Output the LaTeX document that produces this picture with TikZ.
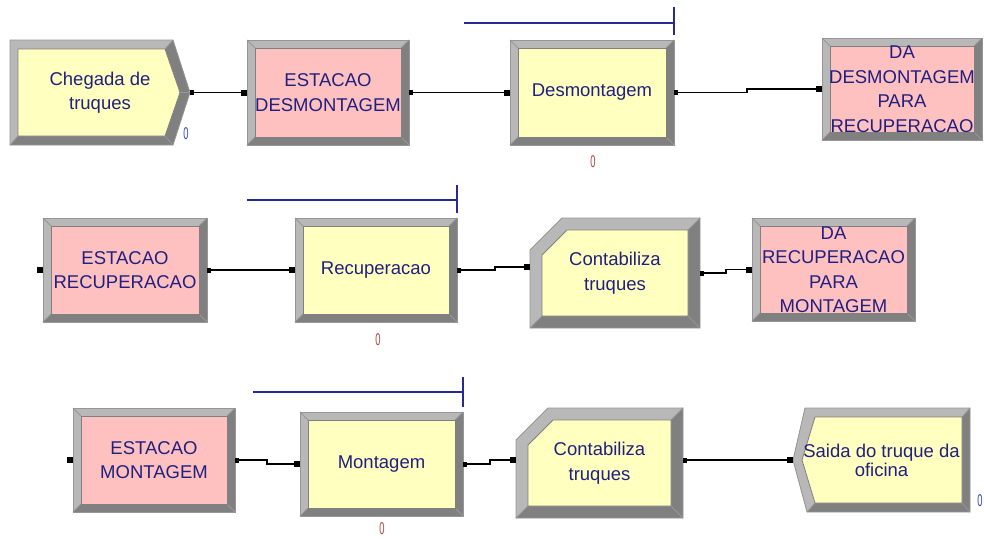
\documentclass[tikz,border=0pt]{standalone}
\usepackage{fontspec}
\setmainfont{Liberation Sans}
\usetikzlibrary{calc,arrows.meta}
\pgfdeclarelayer{back}
\pgfdeclarelayer{bg}
\pgfsetlayers{back,bg,main}
\definecolor{ylw}{RGB}{255,255,192}
\definecolor{pnk}{RGB}{255,192,192}
\definecolor{ltg}{RGB}{184,184,184}
\definecolor{dkg}{RGB}{128,128,128}
\definecolor{edg}{RGB}{150,150,150}
\definecolor{txt}{RGB}{32,32,128}
\definecolor{resc}{RGB}{40,40,150}
\definecolor{zblue}{RGB}{50,70,200}
\definecolor{zred}{RGB}{170,70,60}
\tikzset{
 blk/.style={draw=none, inner sep=0pt, outer sep=0pt, align=center, text=txt, font=\fontsize{18.5}{24.5}\selectfont},
 conn/.style={line width=1.2pt, {Square[length=4pt,width=5pt]}-{Square[length=6pt,width=6pt]}},
 res/.style={draw=resc, line width=1.4pt},
 zero/.style={inner sep=0pt, font=\fontsize{17}{17}\selectfont},
 thinl/.style={draw=edg, line width=0.8pt},
}
\newcommand\bevrect[2]{%
\begin{pgfonlayer}{bg}
\fill[dkg] (#1.north west) rectangle (#1.south east);
\fill[ltg] (#1.north west) -- (#1.north east) -- ($(#1.north east)+(-8,8)$) -- ($(#1.north west)+(8,8)$) -- ($(#1.south west)+(8,-8)$) -- (#1.south west) -- cycle;
\draw[thinl] (#1.north west) -- ($(#1.north west)+(8,8)$) (#1.north east) -- ($(#1.north east)+(-8,8)$) (#1.south west) -- ($(#1.south west)+(8,-8)$) (#1.south east) -- ($(#1.south east)+(-8,-8)$);
\filldraw[fill=#2, draw=dkg, line width=0.8pt] ($(#1.north west)+(8,8)$) rectangle ($(#1.south east)+(-8,-8)$);
\draw[thinl] (#1.north west) rectangle (#1.south east);
\end{pgfonlayer}}
\newcommand\bevrec[2]{%
\begin{pgfonlayer}{bg}
\fill[dkg] ($(#1.north west)+(32,0)$) -- (#1.north east) -- (#1.south east) -- (#1.south west) -- ($(#1.north west)+(0,32)$) -- cycle;
\fill[ltg] ($(#1.north west)+(32,0)$) -- (#1.north east) -- ($(#1.north east)+(-12,12)$) -- ($(#1.north west)+(37,12)$) -- ($(#1.north west)+(12,37)$) -- ($(#1.south west)+(12,-12)$) -- (#1.south west) -- ($(#1.north west)+(0,32)$) -- cycle;
\draw[thinl] (#1.north east) -- ($(#1.north east)+(-12,12)$) (#1.south west) -- ($(#1.south west)+(12,-12)$) (#1.south east) -- ($(#1.south east)+(-12,-12)$);
\filldraw[fill=#2, draw=dkg, line width=0.8pt] ($(#1.north west)+(37,12)$) -- ($(#1.north east)+(-12,12)$) -- ($(#1.south east)+(-12,-12)$) -- ($(#1.south west)+(12,-12)$) -- ($(#1.north west)+(12,37)$) -- cycle;
\draw[thinl] ($(#1.north west)+(32,0)$) -- (#1.north east) -- (#1.south east) -- (#1.south west) -- ($(#1.north west)+(0,32)$) -- cycle;
\end{pgfonlayer}}
\begin{document}
\begin{tikzpicture}[x=1pt,y=-1pt]
\begin{pgfonlayer}{back}
\fill[white] (0,0) rectangle (984,538);
\end{pgfonlayer}
\useasboundingbox (0,0) rectangle (984,538);

% ---------- row 1 ----------
\node[blk, minimum width=180pt, minimum height=105pt] (cheg) at (100,92.5) {Chegada de\\truques};
\node[blk, minimum width=162pt, minimum height=105pt] (estd) at (328,92.5) {ESTACAO\\DESMONTAGEM};
\node[blk, minimum width=164pt, minimum height=105pt] (desm) at (592,92.5) {Desmontagem};
\node[blk, minimum width=160pt, minimum height=102pt] (dad) at (902,89) {DA\\DESMONTAGEM\\PARA\\RECUPERACAO};

% ---------- row 2 ----------
\node[blk, minimum width=164pt, minimum height=104pt] (estr) at (125,270) {ESTACAO\\RECUPERACAO};
\node[blk, minimum width=162pt, minimum height=104pt] (recu) at (376,270) {Recuperacao};
\node[blk, minimum width=170pt, minimum height=110pt] (con1) at (615,273) {Contabiliza\\truques};
\node[blk, minimum width=163pt, minimum height=103pt] (darm) at (833.5,269.5) {DA\\RECUPERACAO\\PARA\\MONTAGEM};

% ---------- row 3 ----------
\node[blk, minimum width=162pt, minimum height=104pt] (estm) at (154,460) {ESTACAO\\MONTAGEM};
\node[blk, minimum width=163pt, minimum height=104pt] (mont) at (381.5,464) {Montagem};
\node[blk, minimum width=167pt, minimum height=110pt] (con2) at (599.5,463) {Contabiliza\\truques};
\node[blk, minimum width=177pt, minimum height=104pt, font=\fontsize{18.5}{19}\selectfont] (said) at (881.5,460) {Saida do truque da\\oficina};

% ---------- shapes ----------
\begin{pgfonlayer}{bg}
% Create
\fill[dkg] (cheg.north west) -- ($(cheg.north east)+(-17,0)$) -- (cheg.east) -- ($(cheg.south east)+(-17,0)$) -- (cheg.south west) -- cycle;
\fill[ltg] (cheg.north west) -- ($(cheg.north east)+(-17,0)$) -- ($(cheg.north east)+(-25,9)$) -- ($(cheg.north west)+(8,9)$) -- ($(cheg.south west)+(8,-9)$) -- (cheg.south west) -- cycle;
\draw[thinl] ($(cheg.north east)+(-17,0)$) -- ($(cheg.north east)+(-25,9)$) (cheg.east) -- ($(cheg.east)+(-10,0)$) ($(cheg.south east)+(-17,0)$) -- ($(cheg.south east)+(-25,-9)$) (cheg.south west) -- ($(cheg.south west)+(8,-9)$);
\filldraw[fill=ylw, draw=dkg, line width=0.8pt] ($(cheg.north west)+(8,9)$) -- ($(cheg.north east)+(-25,9)$) -- ($(cheg.east)+(-10,0)$) -- ($(cheg.south east)+(-25,-9)$) -- ($(cheg.south west)+(8,-9)$) -- cycle;
\draw[thinl] (cheg.north west) -- ($(cheg.north east)+(-17,0)$) -- (cheg.east) -- ($(cheg.south east)+(-17,0)$) -- (cheg.south west) -- cycle;
% Dispose
\fill[dkg] ($(said.north west)+(12,0)$) -- (said.north east) -- (said.south east) -- ($(said.south west)+(14,0)$) -- (said.west) -- cycle;
\fill[ltg] ($(said.north west)+(12,0)$) -- (said.north east) -- ($(said.north east)+(-8,9)$) -- ($(said.north west)+(22,9)$) -- ($(said.west)+(9,0)$) -- ($(said.south west)+(22,-9)$) -- ($(said.south west)+(14,0)$) -- (said.west) -- cycle;
\draw[thinl] (said.north east) -- ($(said.north east)+(-8,9)$) (said.south east) -- ($(said.south east)+(-8,-9)$) ($(said.south west)+(14,0)$) -- ($(said.south west)+(22,-9)$);
\filldraw[fill=ylw, draw=dkg, line width=0.8pt] ($(said.north west)+(22,9)$) -- ($(said.north east)+(-8,9)$) -- ($(said.south east)+(-8,-9)$) -- ($(said.south west)+(22,-9)$) -- ($(said.west)+(9,0)$) -- cycle;
\draw[thinl] ($(said.north west)+(12,0)$) -- (said.north east) -- (said.south east) -- ($(said.south west)+(14,0)$) -- (said.west) -- cycle;
\end{pgfonlayer}
\bevrect{estd}{pnk}
\bevrect{desm}{ylw}
\bevrect{dad}{pnk}
\bevrect{estr}{pnk}
\bevrect{recu}{ylw}
\bevrec{con1}{ylw}
\bevrect{darm}{pnk}
\bevrect{estm}{pnk}
\bevrect{mont}{ylw}
\bevrec{con2}{ylw}

% ---------- resources ----------
\draw[res] ($(desm.north east)+(0,-17)$) -- ++(-210,0);
\draw[res] ($(desm.north east)+(0,-33)$) -- ++(0,28);
\draw[res] ($(recu.north east)+(0,-18)$) -- ++(-210,0);
\draw[res] ($(recu.north east)+(0,-33)$) -- ++(0,28);
\draw[res] ($(mont.north east)+(0,-20)$) -- ++(-210,0);
\draw[res] ($(mont.north east)+(0,-35)$) -- ++(0,30);

% ---------- counters ----------
\node[zero, text=zblue] (cheg0) at (186,134) {\scalebox{0.55}[1]{0}};
\node[zero, text=zred] (desm0) at (593,162) {\scalebox{0.55}[1]{0}};
\node[zero, text=zred] (recu0) at (378,340) {\scalebox{0.55}[1]{0}};
\node[zero, text=zred] (mont0) at (382,529) {\scalebox{0.55}[1]{0}};
\node[zero, text=zblue] (said0) at (980,501) {\scalebox{0.55}[1]{0}};

% ---------- connectors ----------
\draw[conn] (cheg.east) -- (estd.west);
\draw[conn] (estd.east) -- (desm.west);
\draw[conn] (desm.east) -- ++(73,0) |- (dad.west);
\draw[conn] (estr.east) -- (recu.west);
\draw[conn] (recu.east) -- ++(38,0) |- ($(con1.west)+(0,-6)$);
\draw[conn] (con1.east) -- ++(26,0) |- (darm.west);
\draw[conn] (estm.east) -- ++(32,0) |- (mont.west);
\draw[conn] (mont.east) -- ++(27,0) |- ($(con2.west)+(0,-3)$);
\draw[conn] ($(con2.east)+(0,-3)$) -- (said.west);
% dangling entry points
\fill ($(estr.west)+(-6,-3)$) rectangle ++(6,6);
\fill ($(estm.west)+(-6,-3)$) rectangle ++(6,6);
\end{tikzpicture}
\end{document}
